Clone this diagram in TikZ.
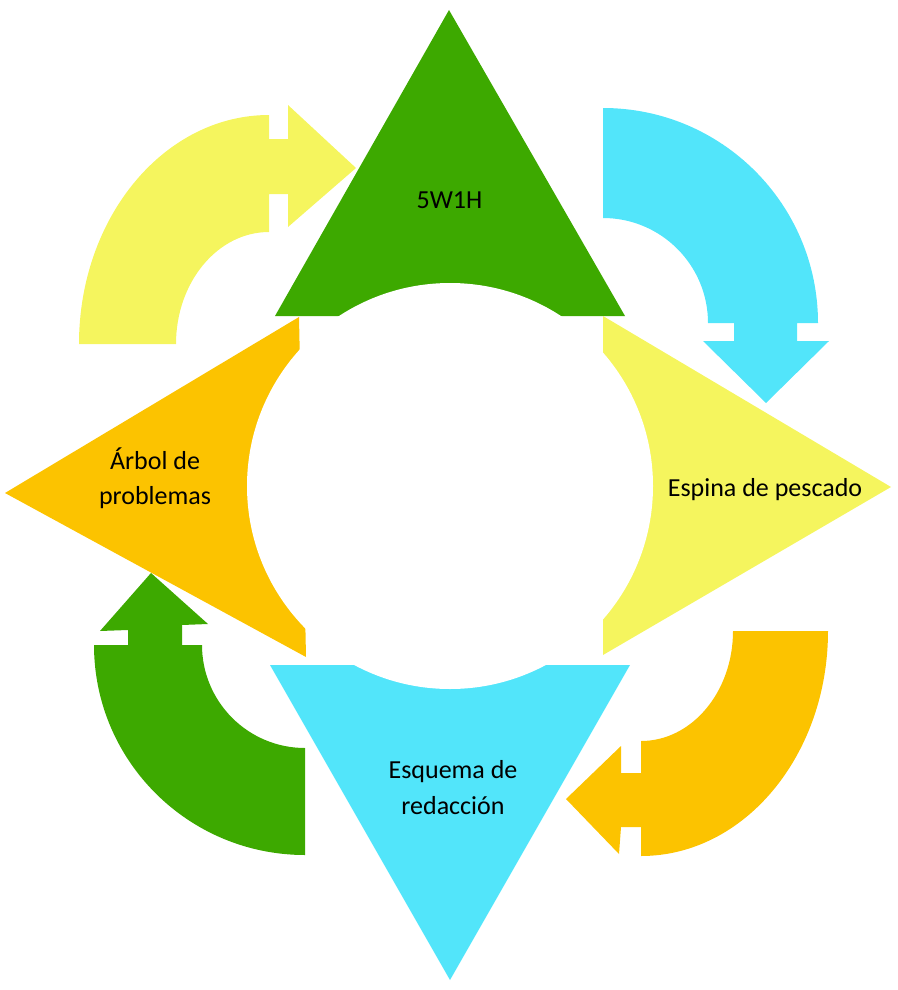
\documentclass[tikz,border=0pt]{standalone}
\usepackage{fontspec}
\setmainfont{Carlito}
\definecolor{cgreen}{RGB}{61,169,0}
\definecolor{ccyan}{RGB}{82,229,250}
\definecolor{cyellow}{RGB}{245,245,94}
\definecolor{corange}{RGB}{252,195,0}
\begin{document}
\begin{tikzpicture}[x=1pt,y=-1pt,
  lbl/.style={font=\fontsize{26}{35.5}\selectfont, inner sep=0pt, align=center, text=black, anchor=base}]
\useasboundingbox (0,0) rectangle (897,990);
% triangles
\fill[cgreen] (449,10) -- (625,316) -- (275,316) -- cycle;
\fill[corange] (5,493) -- (299,317) -- (306,657) -- cycle;
\fill[cyellow] (891,487) -- (603,316) -- (603,655) -- cycle;
\fill[ccyan] (270,665) -- (630,665) -- (450,980) -- cycle;
% central circle
\fill[white] (450,486) circle[radius=203];
% curved arrows
\fill[cyellow] (79,344) arc[start angle=180, end angle=270, x radius=190, y radius=229]
  -- (269,139) -- (288,139) -- (288,105) -- (356,168) -- (288,227) -- (288,194) -- (269,194) -- (269,232)
  arc[start angle=270, end angle=180, x radius=93, y radius=112] -- cycle;
\fill[ccyan] (603,108) arc[start angle=-90, end angle=0, radius=215]
  -- (797,323) -- (797,341) -- (829,341) -- (766,403) -- (703,341) -- (734,341) -- (734,323) -- (708,323)
  arc[start angle=0, end angle=-90, radius=105] -- cycle;
\fill[corange] (828,631) arc[start angle=0, end angle=90, x radius=187, y radius=225]
  -- (641,827) -- (621,827) -- (619,854) -- (566,799) -- (621,746) -- (621,773) -- (641,773) -- (641,741)
  arc[start angle=90, end angle=0, x radius=92, y radius=110] -- cycle;
\fill[cgreen] (305,855) arc[start angle=90, end angle=180, x radius=211, y radius=210]
  -- (128,645) -- (128,630) -- (100,631) -- (151,573) -- (208,624) -- (182,625) -- (182,645) -- (202,645)
  arc[start angle=180, end angle=90, radius=103] -- cycle;
% labels
\node[lbl] (t1) at (449.5,208) {5W1H};
\node[lbl] (t2) at (765,496) {Espina de pescado};
\node[lbl] (t3) at (155,504.5) {Árbol de\\problemas};
\node[lbl] (t4) at (453,814) {Esquema de\\redacción};
\end{tikzpicture}
\end{document}
